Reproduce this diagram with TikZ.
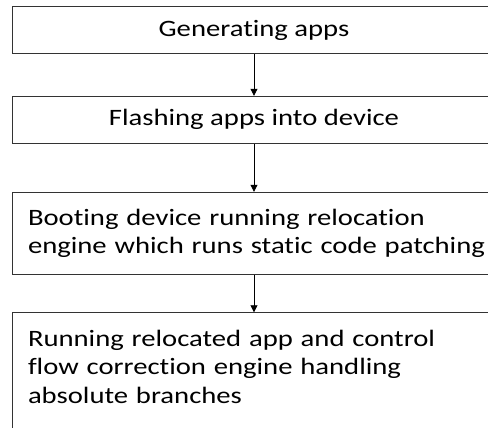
\documentclass[tikz,border=0pt]{standalone}
\usepackage{fontspec}
\setmainfont{Carlito}[FakeStretch=1.22, Ligatures=NoCommon]
\usetikzlibrary{arrows.meta}
\begin{document}
\begin{tikzpicture}[x=1pt,y=-1pt,
  stepbox/.style={draw=black!80, line width=1pt, minimum width=484pt,
    inner xsep=16pt, inner ysep=0pt, font=\fontsize{23.5}{28.5}\selectfont},
  leftbox/.style={stepbox, text width=452pt, align=left},
  flow/.style={draw=black, line width=0.8pt, -{Triangle[length=7pt,width=7pt]}}]
\useasboundingbox (0,0) rectangle (488,428);
\clip (0,0) rectangle (488,428);
% process steps, top to bottom
\node[stepbox, minimum height=47pt] (gen) at (254,30.3) {Generating apps};
\node[stepbox, minimum height=47pt] (flash) at (254,119.8) {Flashing apps into device};
\node[leftbox, minimum height=82pt] (boot) at (254,233.3)
  {Booting device running relocation\\\mbox{engine which runs static code patching}};
\node[leftbox, anchor=north] (run) at (254,312.3)
  {\rule{0pt}{33.4pt}Running relocated app and control\\
   flow correction engine handling\\
   absolute branches\rule[-40pt]{0pt}{40pt}};
% connectors
\draw[flow] (gen.south) -- (flash.north);
\draw[flow] (flash.south) -- (boot.north);
\draw[flow] (boot.south) -- (run.north);
\end{tikzpicture}
\end{document}
